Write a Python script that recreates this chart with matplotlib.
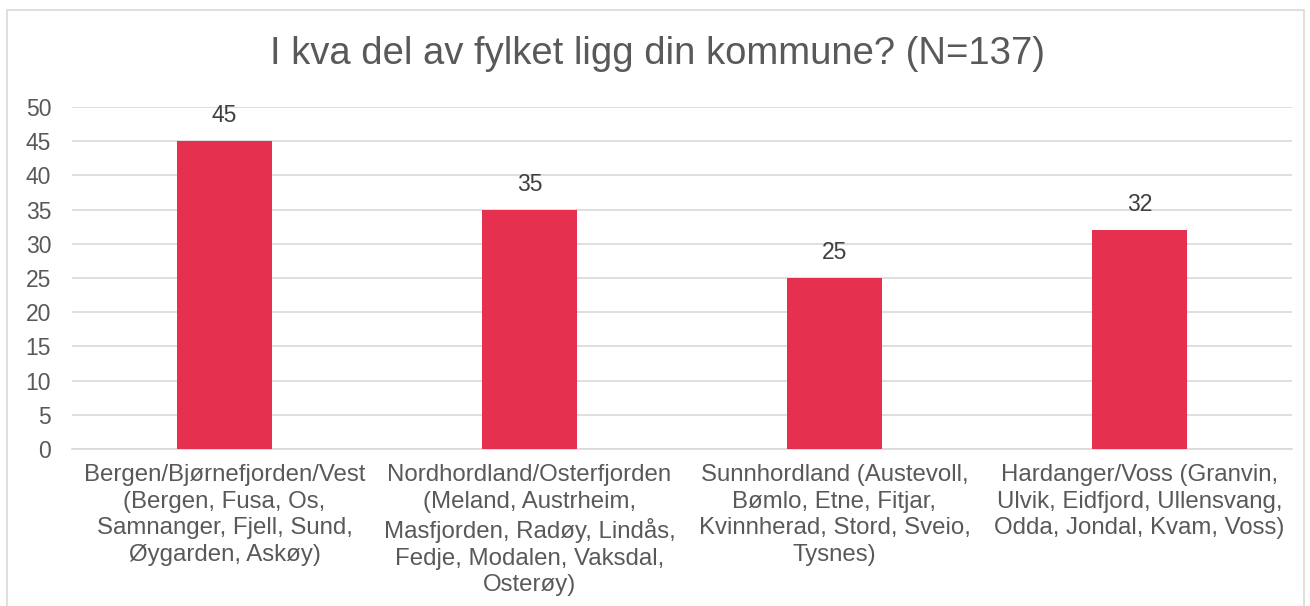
import matplotlib
matplotlib.use("Agg")
import matplotlib.pyplot as plt
import matplotlib.patches as mpatches

TITLE = "I kva del av fylket ligg din kommune? (N=137)"
categories = [
    "Bergen/Bjørnefjorden/Vest\n(Bergen, Fusa, Os,\nSamnanger, Fjell, Sund,\nØygarden, Askøy)",
    "Nordhordland/Osterfjorden\n(Meland, Austrheim,\nMasfjorden, Radøy, Lindås,\nFedje, Modalen, Vaksdal,\nOsterøy)",
    "Sunnhordland (Austevoll,\nBømlo, Etne, Fitjar,\nKvinnherad, Stord, Sveio,\nTysnes)",
    "Hardanger/Voss (Granvin,\nUlvik, Eidfjord, Ullensvang,\nOdda, Jondal, Kvam, Voss)",
]
values = [45, 35, 25, 32]
yticks = [0, 5, 10, 15, 20, 25, 30, 35, 40, 45, 50]

BAR_COLOR = "#E6304F"
TEXT_COLOR = "#595959"
GRID_COLOR = "#D9D9D9"

plt.rcParams["font.family"] = ["Liberation Sans", "DejaVu Sans"]

fig = plt.figure(figsize=(13.1, 6.06), dpi=100)
ax = fig.add_axes([72 / 1310, 1 - 449 / 606, 1220 / 1310, 342 / 606])

x = range(len(categories))
bars = ax.bar(x, values, width=0.31, color=BAR_COLOR, zorder=3)
ax.bar_label(bars, padding=10, fontsize=16.5, color="#404040")

ax.set_xlim(-0.5, len(categories) - 0.5)
ax.set_ylim(0, 50)
ax.set_yticks(yticks)
ax.set_xticks(list(x))
ax.set_xticklabels(categories, fontsize=17.3, color=TEXT_COLOR, linespacing=1.27)
ax.tick_params(axis="y", length=0, pad=15, labelsize=16.5, labelcolor=TEXT_COLOR)
ax.tick_params(axis="x", length=0, pad=11)

ax.grid(axis="y", color=GRID_COLOR, lw=1.2, zorder=0)
for s in ["top", "right", "left"]:
    ax.spines[s].set_visible(False)
ax.spines["bottom"].set_color(GRID_COLOR)
ax.spines["bottom"].set_linewidth(1.2)

fig.text(0.502, 1 - 54 / 606, TITLE, ha="center", va="center",
         fontsize=27.5, color=TEXT_COLOR)

fig.patches.append(mpatches.Rectangle(
    (7 / 1310, -0.01), 1297 / 1310, 1 - 10 / 606 + 0.01,
    transform=fig.transFigure, fill=False, edgecolor=GRID_COLOR, lw=1.2))

fig.savefig("out.png", dpi=100)
